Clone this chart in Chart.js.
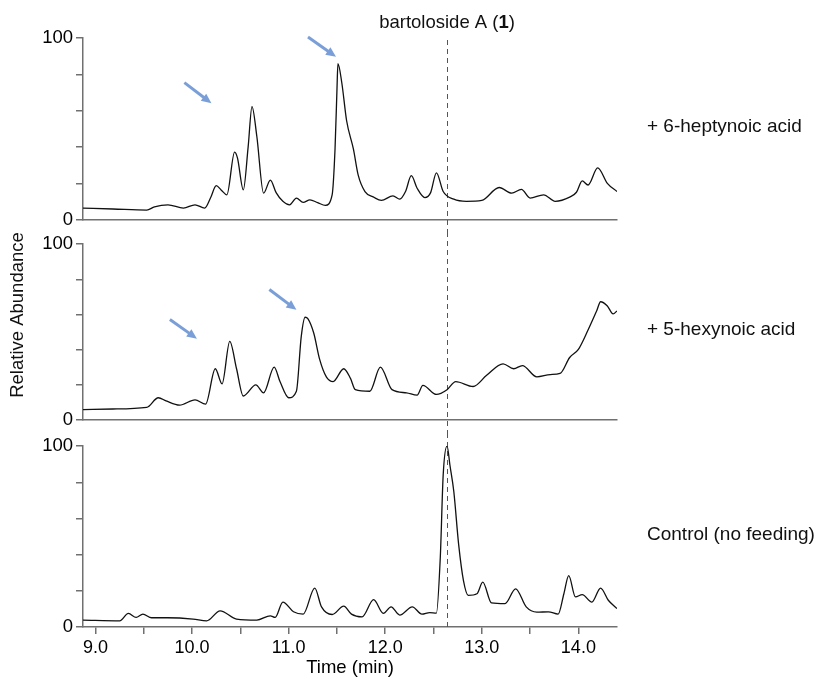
<!DOCTYPE html>
<html>
<head>
<meta charset="utf-8">
<script src="https://cdn.jsdelivr.net/npm/chart.js@4"></script>
<style>
  html, body { margin: 0; padding: 0; background: #fff; }
  #wrap { position: relative; width: 817px; height: 679px; }
  canvas { position: absolute; left: 0; }
</style>
</head>
<body>
<div id="wrap">
  <canvas id="hept" width="817" height="234" style="top:0px"></canvas>
  <canvas id="hex" width="817" height="204" style="top:230px"></canvas>
  <canvas id="ctrl" width="817" height="247" style="top:432px"></canvas>
</div>
<script>
// retention window and marker (min)
const timeMin = 8.87;
const timeMax = 14.40;
const markerTime = 12.64;
const xTickValues = [9.0, 9.5, 10.0, 10.5, 11.0, 11.5, 12.0, 12.5, 13.0, 13.5, 14.0];
const yTickValues = [0, 20, 40, 60, 80, 100];

// + 6-heptynoic acid
const heptTime = [8.87, 9.18, 9.53, 9.61, 9.75, 9.91, 10.03, 10.13, 10.19, 10.25, 10.30, 10.36, 10.44, 10.47, 10.53,
  10.58, 10.62, 10.67, 10.74, 10.81, 10.87, 10.94, 11.01, 11.08, 11.15, 11.22, 11.30, 11.38, 11.45, 11.48, 11.50,
  11.51, 11.55, 11.60, 11.67, 11.72, 11.79, 11.88, 11.96, 12.08, 12.15, 12.21, 12.27, 12.33, 12.41, 12.47, 12.53,
  12.60, 12.71, 12.84, 13.00, 13.18, 13.31, 13.41, 13.50, 13.64, 13.76, 13.91, 13.98, 14.04, 14.10, 14.20, 14.30,
  14.40];
const heptAbund = [6.5, 6.0, 5.4, 7.2, 8.3, 6.5, 8.3, 6.5, 12, 18.8, 16.5, 13.8, 37.3, 34, 16.5,
  40, 62.3, 46, 14.7, 21.9, 15, 10.2, 8.3, 12, 9.6, 11, 9.5, 8, 13.8, 39, 71.7,
  85.9, 75.4, 54.5, 39, 24.6, 15.6, 12.5, 10.7, 13.2, 11.4, 15.6, 24.3, 17.4, 12.3, 15, 25.9,
  15.6, 11.4, 10.2, 10.7, 17.8, 14.7, 16.8, 12, 13.8, 10.2, 12.5, 15.2, 21.4, 19.2, 28.6, 20.1,
  15.6];

// + 5-hexynoic acid
const hexTime = [8.87, 9.18, 9.53, 9.65, 9.73, 9.87, 10.03, 10.14, 10.24, 10.31, 10.39, 10.46, 10.53, 10.66, 10.74,
  10.85, 10.91, 11.00, 11.08, 11.13, 11.17, 11.20, 11.26, 11.32, 11.39, 11.46, 11.57, 11.64, 11.69, 11.84, 11.95,
  12.07, 12.22, 12.33, 12.39, 12.53, 12.64, 12.73, 12.91, 13.05, 13.22, 13.33, 13.42, 13.57, 13.71, 13.81, 13.91,
  14.00, 14.10, 14.19, 14.23, 14.30, 14.36, 14.40];
const hexAbund = [5.9, 6.2, 7.1, 12.6, 10.8, 8.4, 11.4, 9, 29.1, 20.5, 44.7, 29.1, 13.6, 19.9, 15.4,
  30, 21.8, 12.6, 16.3, 47.4, 58.4, 57.5, 49.3, 34.6, 24.5, 21.8, 29.1, 23.6, 17.2, 16.3, 30,
  17.2, 15.4, 14.1, 19.6, 14.5, 17.2, 21.8, 19, 25.4, 31.9, 29.1, 30.9, 24.5, 25.8, 26.4, 35.5,
  40.1, 51.1, 62.1, 67.2, 64.8, 60.3, 62];

// Control (no feeding)
const ctrlTime = [8.87, 9.25, 9.34, 9.42, 9.49, 9.58, 9.74, 10.01, 10.15, 10.29, 10.46, 10.67, 10.81, 10.86, 10.94,
  11.05, 11.15, 11.27, 11.34, 11.45, 11.57, 11.65, 11.76, 11.88, 11.98, 12.06, 12.15, 12.28, 12.38, 12.46, 12.53,
  12.57, 12.60, 12.64, 12.67, 12.71, 12.76, 12.81, 12.86, 12.95, 13.01, 13.10, 13.24, 13.35, 13.46, 13.57, 13.69,
  13.79, 13.85, 13.90, 13.97, 14.04, 14.14, 14.23, 14.31, 14.40];
const ctrlAbund = [3.8, 3.4, 7.5, 5.3, 7.1, 5.1, 5.1, 4.4, 3.4, 8.9, 4.4, 3.8, 6.2, 5.3, 13.8,
  8.4, 7.1, 21.5, 11.1, 6.9, 11.5, 7.1, 5.6, 15.1, 7.5, 11.1, 6.6, 11.1, 7.1, 8.0, 7.7,
  38.4, 84, 100, 89.4, 74.9, 45.7, 25.7, 17.5, 18.4, 24.8, 13.3, 12.9, 21.1, 11.1, 8.2, 8.4,
  7.1, 18.4, 28.4, 16.6, 17.9, 13.8, 21.5, 14.8, 10.2];

// arrows: [fromTime, fromAbund, toTime, toAbund]
const heptArrows = [[9.92, 75.5, 10.20, 64.1], [11.20, 100.5, 11.49, 89.7]];
const hexArrows = [[9.77, 57.1, 10.05, 46.2], [10.80, 74.2, 11.08, 62.6]];

const FONT = '"Liberation Sans", Arial, sans-serif';
const AXIS = '#707070';

function toPoints(t, a) {
  return t.map((v, i) => ({ x: v, y: a[i] }));
}

function drawArrow(ctx, x0, y0, x1, y1) {
  const ang = Math.atan2(y1 - y0, x1 - x0);
  const head = 10;
  ctx.strokeStyle = '#7a9fd8';
  ctx.fillStyle = '#7a9fd8';
  ctx.lineWidth = 3;
  ctx.beginPath();
  ctx.moveTo(x0, y0);
  ctx.lineTo(x1 - head * 0.7 * Math.cos(ang), y1 - head * 0.7 * Math.sin(ang));
  ctx.stroke();
  ctx.beginPath();
  ctx.moveTo(x1, y1);
  ctx.lineTo(x1 - head * Math.cos(ang) + 4.5 * Math.sin(ang), y1 - head * Math.sin(ang) - 4.5 * Math.cos(ang));
  ctx.lineTo(x1 - head * Math.cos(ang) - 4.5 * Math.sin(ang), y1 - head * Math.sin(ang) + 4.5 * Math.cos(ang));
  ctx.closePath();
  ctx.fill();
}

const overlay = {
  id: 'overlay',
  beforeDatasetsDraw(chart, args, opts) {
    const { ctx, scales: { x } } = chart;
    const dx = Math.round(x.getPixelForValue(markerTime)) + 0.5;
    ctx.save();
    ctx.strokeStyle = '#555';
    ctx.lineWidth = 1;
    ctx.setLineDash([5, 4]);
    ctx.beginPath();
    ctx.moveTo(dx, opts.dashFrom);
    ctx.lineTo(dx, opts.dashTo);
    ctx.stroke();
    ctx.restore();
  },
  afterDraw(chart, args, opts) {
    const { ctx, chartArea, scales: { x, y } } = chart;
    ctx.save();
    (opts.arrows || []).forEach(a => {
      drawArrow(ctx, x.getPixelForValue(a[0]), y.getPixelForValue(a[1]),
        x.getPixelForValue(a[2]), y.getPixelForValue(a[3]));
    });
    ctx.fillStyle = '#111';
    ctx.font = '19px ' + FONT;
    ctx.textBaseline = 'middle';
    ctx.textAlign = 'left';
    ctx.fillText(opts.label, chartArea.right + 30, (chartArea.top + chartArea.bottom) / 2 - 2);

    if (opts.title) {
      // bartoloside A (1), with the compound number in bold
      const cx = x.getPixelForValue(markerTime);
      const parts = [['bartoloside A (', ''], ['1', 'bold '], [')', '']];
      let w = 0;
      parts.forEach(p => { ctx.font = p[1] + '18.5px ' + FONT; w += ctx.measureText(p[0]).width; });
      let px = cx - w / 2;
      parts.forEach(p => {
        ctx.font = p[1] + '18.5px ' + FONT;
        ctx.fillText(p[0], px, 23);
        px += ctx.measureText(p[0]).width;
      });
    }
    if (opts.yTitle) {
      ctx.translate(18, (chartArea.top + chartArea.bottom) / 2 - 17);
      ctx.rotate(-Math.PI / 2);
      ctx.textAlign = 'center';
      ctx.font = '18.5px ' + FONT;
      ctx.fillText('Relative Abundance', 0, 0);
    }
    ctx.restore();
  }
};

function makeChart(id, points, padTop, padBottom, bottomAxis, overlayOpts) {
  const xScale = {
    type: 'linear',
    min: timeMin,
    max: timeMax,
    border: { color: AXIS, width: 1.5 },
    grid: { drawOnChartArea: false, drawTicks: bottomAxis, tickLength: 7, color: AXIS, lineWidth: 1.5 },
    ticks: {
      display: bottomAxis,
      color: '#000',
      font: { family: FONT, size: 18 },
      padding: 3,
      maxRotation: 0,
      autoSkip: false,
      callback: v => Number.isInteger(v) ? v.toFixed(1) : ''
    },
    afterBuildTicks: s => { s.ticks = xTickValues.map(v => ({ value: v })); },
    afterFit: s => { s.height = bottomAxis ? 52 : 0; }
  };
  if (bottomAxis) {
    xScale.title = {
      display: true, text: 'Time (min)', color: '#000',
      font: { family: FONT, size: 18.5 }, padding: { top: 0, bottom: 0 }
    };
  }
  return new Chart(document.getElementById(id), {
    type: 'line',
    data: {
      datasets: [{
        data: points,
        borderColor: '#111',
        borderWidth: 1.3,
        pointRadius: 0,
        cubicInterpolationMode: 'monotone',
        fill: false
      }]
    },
    options: {
      responsive: false,
      animation: false,
      layout: { padding: { top: padTop, bottom: padBottom, left: 0, right: 200 } },
      plugins: { legend: { display: false }, tooltip: { enabled: false }, overlay: overlayOpts },
      scales: {
        x: xScale,
        y: {
          min: 0,
          max: 100,
          border: { color: AXIS, width: 1.5 },
          grid: { drawOnChartArea: false, tickLength: 7, color: AXIS, lineWidth: 1.5 },
          ticks: {
            color: '#000',
            font: { family: FONT, size: 18.5 },
            padding: 3,
            callback: v => (v === 0 || v === 100) ? v : ''
          },
          afterBuildTicks: s => { s.ticks = yTickValues.map(v => ({ value: v })); },
          afterFit: s => { s.width = 83; }
        }
      }
    },
    plugins: [overlay]
  });
}

makeChart('hept', toPoints(heptTime, heptAbund), 38, 12, false,
  { label: '+ 6-heptynoic acid', arrows: heptArrows, dashFrom: 40, dashTo: 232, title: true });
makeChart('hex', toPoints(hexTime, hexAbund), 11, 11, false,
  { label: '+ 5-hexynoic acid', arrows: hexArrows, dashFrom: 2, dashTo: 203, yTitle: true });
makeChart('ctrl', toPoints(ctrlTime, ctrlAbund), 12, 0, true,
  { label: 'Control (no feeding)', arrows: [], dashFrom: 1, dashTo: 195 });
</script>
</body>
</html>
